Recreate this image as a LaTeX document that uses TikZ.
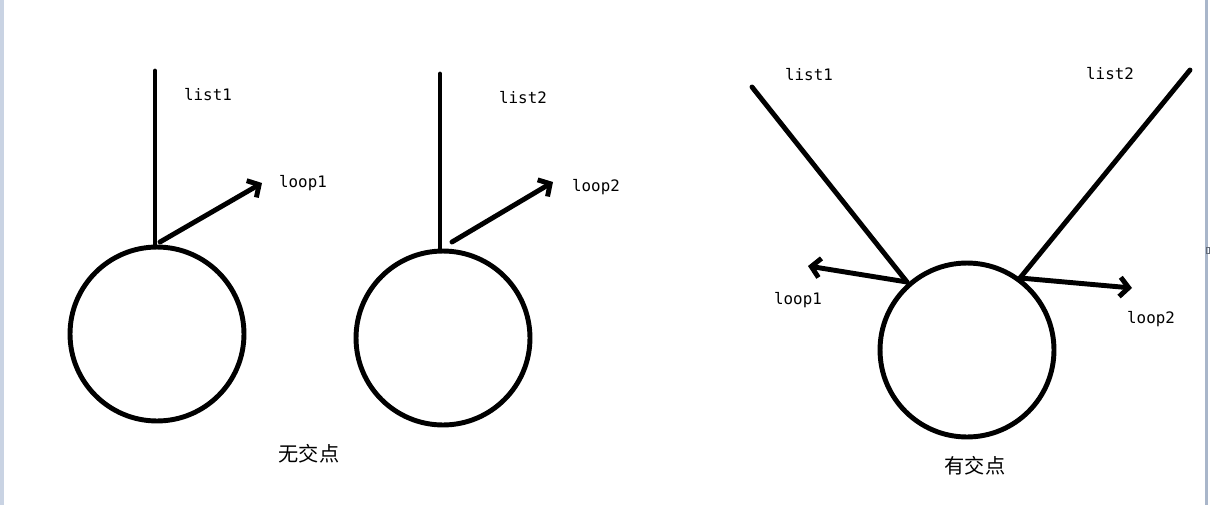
\documentclass[tikz,border=0pt]{standalone}
\usepackage{fontspec}
\setmonofont{DejaVu Sans Mono}
\newfontfamily\cjk{Noto Sans CJK SC}
\usetikzlibrary{arrows.meta}
\definecolor{lborder}{HTML}{C9D3E3}
\definecolor{rborder}{HTML}{A9B6CA}
\begin{document}
\begin{tikzpicture}[x={(0.02cm,0)},y={(0,-0.02cm)},
  thick line/.style={line width=2.8pt, line cap=round},
  arr/.style={thick line, -{Straight Barb[length=5pt,width=11pt,line width=2.8pt]}},
  ring/.style={circle, draw, line width=2.8pt, minimum size=3.48cm, inner sep=0pt},
  lbl/.style={font=\ttfamily\fontsize{9}{10}\selectfont, inner sep=0pt},
  captext/.style={font=\cjk\fontsize{11.5}{13}\selectfont, inner sep=0pt}]
\useasboundingbox (0,0) rectangle (1210,521);
\fill[white] (0,0) rectangle (1210,521);
% window borders
\fill[lborder] (0,0) rectangle (3.5,505);
\fill[rborder] (1205,0) rectangle (1207.5,505);
\draw[rborder!60!black, line width=0.5pt] (1206,247) rectangle (1209,253);

% ---- left: no intersection, diagram 1
\node[ring] (c1) at (157,334) {};
\coordinate (t1) at (155,71);
\coordinate (b1) at (155,245);
\coordinate (a1s) at (160,242);
\coordinate (a1e) at (262,183);
\draw[thick line] (t1) -- (b1);
\draw[arr] (a1s) -- (a1e);
\node[lbl] (l1) at (208,95) {list1};
\node[lbl] (p1) at (303,183) {loop1};

% ---- diagram 2
\node[ring] (c2) at (443,338) {};
\coordinate (t2) at (440,74);
\coordinate (b2) at (440,250);
\coordinate (a2s) at (452,242);
\coordinate (a2e) at (553,182);
\draw[thick line] (t2) -- (b2);
\draw[arr] (a2s) -- (a2e);
\node[lbl] (l2) at (523,98) {list2};
\node[lbl] (p2) at (596,187) {loop2};

\node[captext] (cap1) at (309,454) {无交点};

% ---- right: intersection
\node[ring] (c3) at (967,350) {};
\coordinate (s1) at (752,87);
\coordinate (j1) at (907,282);
\coordinate (s2) at (1190,70);
\coordinate (j2) at (1020,278);
\coordinate (e1) at (808,266);
\coordinate (e2) at (1132,288);
\draw[thick line] (s1) -- (j1);
\draw[thick line] (s2) -- (j2);
\draw[arr] (j1) -- (e1);
\draw[arr] (j2) -- (e2);
\node[lbl] (l3) at (809,75) {list1};
\node[lbl] (l4) at (1110,74) {list2};
\node[lbl] (p3) at (798,300) {loop1};
\node[lbl] (p4) at (1151,319) {loop2};

\node[captext] (cap2) at (975,466) {有交点};
\end{tikzpicture}
\end{document}
